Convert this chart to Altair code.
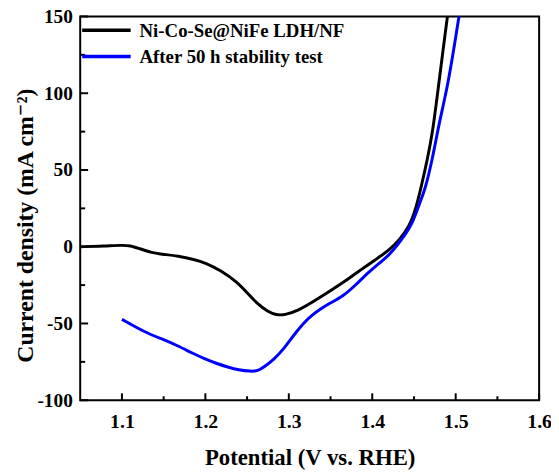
import altair as alt
import pandas as pd

series_names = ["Ni-Co-Se@NiFe LDH/NF", "After 50 h stability test"]
series_colors = ["#000000", "#0000FF"]

black_x = [1.05, 1.08, 1.10, 1.11, 1.12, 1.136, 1.15, 1.167, 1.187, 1.20, 1.219, 1.238, 1.25, 1.262,
           1.275, 1.285, 1.295, 1.31, 1.33, 1.349, 1.37, 1.389, 1.405, 1.42, 1.432, 1.444, 1.452,
           1.46, 1.466, 1.472, 1.479, 1.485, 1.490, 1.494]
black_y = [0, 0.5, 1, 0.8, -1, -4, -5, -6, -8.3, -10.5, -15.6, -23, -30, -37,
           -42.5, -44.5, -44.5, -42, -35.5, -29, -21.5, -14, -8, -2.3, 4, 12.7, 24,
           42, 57, 73, 103, 128.6, 150, 165]

blue_x = [1.10, 1.128, 1.15, 1.167, 1.185, 1.199, 1.213, 1.227, 1.24, 1.254, 1.263, 1.270, 1.282,
          1.294, 1.306, 1.318, 1.328, 1.337, 1.35, 1.365, 1.38, 1.396, 1.41, 1.42, 1.43, 1.44,
          1.448, 1.458, 1.464, 1.472, 1.479, 1.485, 1.491, 1.499, 1.504, 1.508]
blue_y = [-47.3, -55.9, -60.5, -64.5, -69.5, -73, -76, -78.4, -80.3, -81.2, -81, -78.4, -73.5,
          -66.6, -57.5, -49.4, -44.5, -40.9, -36.5, -32.3, -25, -16.3, -10, -5.5, 1, 8.4,
          15, 30, 38.6, 57, 77.2, 92, 107, 132.8, 150, 165]

x_major = [1.1, 1.2, 1.3, 1.4, 1.5, 1.6]
x_minor = [1.15, 1.25, 1.35, 1.45, 1.55]
y_major = [-100, -50, 0, 50, 100, 150]
y_minor = [-75, -25, 25, 75, 125]

W, H = 464, 388
FONT = "Liberation Serif, DejaVu Serif, serif"

df = pd.concat([
    pd.DataFrame({"x": black_x, "y": black_y, "s": series_names[0], "o": range(len(black_x))}),
    pd.DataFrame({"x": blue_x, "y": blue_y, "s": series_names[1], "o": range(len(blue_x))}),
])

xs = alt.Scale(domain=[1.05, 1.6], nice=False, zero=False)
ys = alt.Scale(domain=[-100, 150], nice=False, zero=False)

xaxis = alt.Axis(values=x_major, format=".1f", ticks=False, domain=False, grid=False,
                 labelFont=FONT, labelFontWeight="bold", labelFontSize=20, labelColor="black",
                 labelPadding=12, title="Potential (V vs. RHE)", titleFont=FONT,
                 titleFontWeight="bold", titleFontSize=23, titleColor="black", titlePadding=15,
                 labelFlush=False)
yaxis = alt.Axis(values=y_major, ticks=False, domain=False, grid=False,
                 labelExpr="datum.value < 0 ? '-' + abs(datum.value) : '' + datum.value",
                 labelFont=FONT, labelFontWeight="bold", labelFontSize=19.5, labelColor="black",
                 labelPadding=8, title="Current density (mA cm⁻²)", titleFont=FONT,
                 titleFontWeight="bold", titleFontSize=24, titleColor="black",
                 titleBaseline="alphabetic", titleX=-48, titleY=211, titleAngle=270)

lines = alt.Chart(df).mark_line(strokeWidth=3, clip=True, interpolate="basis").encode(
    x=alt.X("x:Q", scale=xs, axis=xaxis),
    y=alt.Y("y:Q", scale=ys, axis=yaxis),
    color=alt.Color("s:N", scale=alt.Scale(domain=series_names, range=series_colors), legend=None),
    order="o:Q",
)

def yticks(vals, length):
    return alt.Chart(pd.DataFrame({"v": vals})).mark_rule(strokeWidth=2, color="black").encode(
        y=alt.Y("v:Q", scale=ys), x=alt.value(0), x2=alt.value(length))

def xticks(vals, length):
    return alt.Chart(pd.DataFrame({"v": vals})).mark_rule(strokeWidth=2, color="black").encode(
        x=alt.X("v:Q", scale=xs), y=alt.value(H), y2=alt.value(H - length))

legend_layers = []
for i, (name, col) in enumerate(zip(series_names, series_colors)):
    ypos = 14 + 26.5 * i
    d = pd.DataFrame({"label": [name]})
    legend_layers.append(alt.Chart(d).mark_rule(strokeWidth=3.5, color=col).encode(
        x=alt.value(2), x2=alt.value(51), y=alt.value(ypos)))
    legend_layers.append(alt.Chart(d).mark_text(align="left", baseline="middle", font=FONT,
                                                fontWeight="bold", fontSize=19, color="black").encode(
        x=alt.value(60), y=alt.value(ypos + 1), text="label:N"))

chart = alt.layer(
    lines,
    yticks(y_major, 8), yticks(y_minor, 5),
    xticks(x_major, 7), xticks(x_minor, 4),
    *legend_layers,
).properties(
    width=W, height=H,
    autosize=alt.AutoSizeParams(type="none"),
    padding={"left": 73, "top": 6, "right": 12, "bottom": 72},
    background="white",
).configure_view(stroke="black", strokeWidth=2)

chart.save("out.html", embed_options={"renderer": "svg", "actions": False})
